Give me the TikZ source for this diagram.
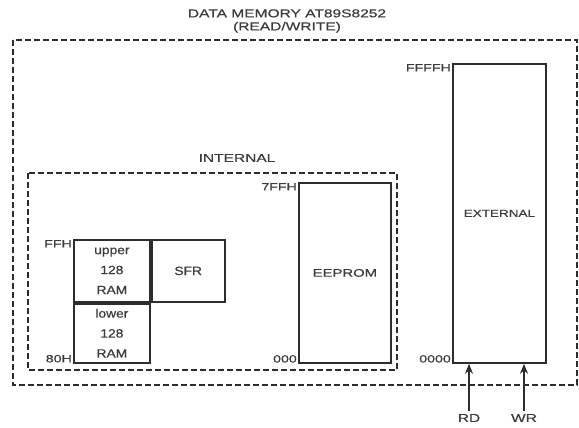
\documentclass[tikz,border=0pt]{standalone}
\usepackage{fontspec}
\setmainfont{Liberation Sans}
\newfontfamily\widefont[FakeStretch=1.35,FakeBold=0.6]{Liberation Sans}
\newfontfamily\ramfont[FakeStretch=1.15,FakeBold=0.6]{Liberation Sans}
\usepackage{xcolor}
\definecolor{inkgray}{RGB}{45,45,45}
\definecolor{textgray}{RGB}{60,60,60}
\usetikzlibrary{arrows.meta,positioning}

\begin{document}
\begin{tikzpicture}[
  x=1pt,y=-1pt,
  block/.style={rectangle,draw=inkgray,line width=1.8pt,inner sep=0pt,
                align=center,font=\ramfont\fontsize{12}{20}\selectfont,text=textgray},
  region/.style={draw=inkgray,line width=1.2pt,dash pattern=on 6pt off 3pt},
  addr/.style={font=\widefont\fontsize{10.5}{12}\selectfont,text=textgray,inner sep=1pt},
  head/.style={font=\widefont\fontsize{11.5}{13}\selectfont,text=textgray,align=center},
  arr/.style={-{Stealth[length=10pt,width=8pt]},line width=2.4pt,color=inkgray}
]
  \useasboundingbox (0,0) rectangle (579,428);

  % outer and inner regions
  \draw[region] (13,40) rectangle (577,385);
  \draw[region] (28,173) rectangle (397,370);
  \node[head] (title) at (287,21) {DATA MEMORY AT89S8252\\(READ/WRITE)};
  \node[head] (intlab) at (237,158) {INTERNAL};

  % internal RAM blocks
  \node[block,minimum width=76pt,minimum height=62pt,anchor=north west]
    (upram) at (73,239) {upper\\128\\RAM};
  \node[block,minimum width=73pt,minimum height=62pt,anchor=north west]
    (sfr) at (upram.north east) {SFR};
  \node[block,minimum width=76pt,minimum height=59pt,anchor=north west]
    (lowram) at (upram.south west) {lower\\128\\RAM};
  \node[addr,anchor=north east] at (upram.north west) {FFH};
  \node[addr,anchor=south east] at (lowram.south west) {80H};

  % EEPROM
  \node[block,minimum width=92pt,minimum height=180pt,anchor=north west,
        font=\widefont\fontsize{11}{13}\selectfont]
    (eeprom) at (298,182) {EEPROM};
  \node[addr,anchor=north east] at (eeprom.north west) {7FFH};
  \node[addr,anchor=south east] at (eeprom.south west) {000};

  % external memory
  \node[block,minimum width=93pt,minimum height=299pt,anchor=north west,
        font=\widefont\fontsize{10}{12}\selectfont]
    (ext) at (452,63) {EXTERNAL};
  \node[addr,anchor=north east] at (ext.north west) {FFFFH};
  \node[addr,anchor=south east] at (ext.south west) {0000};

  % read / write strobes
  \node[head] (rd) at (469,418) {RD};
  \node[head] (wr) at (524,418) {WR};
  \draw[arr] (rd.north) -- (rd.north |- ext.south);
  \draw[arr] (wr.north) -- (wr.north |- ext.south);
\end{tikzpicture}
\end{document}
